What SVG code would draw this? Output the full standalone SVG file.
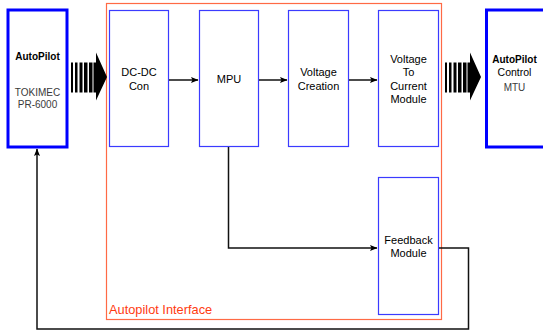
<svg xmlns="http://www.w3.org/2000/svg" width="543" height="331" viewBox="0 0 543 331">
<style>
.blk{fill:#fff;stroke:#3b3bff;stroke-width:1.2}
.big{fill:#fff;stroke:#0000ff;stroke-width:3}
.t{font-family:"Liberation Sans",Arial,sans-serif;font-size:11px;fill:#000;text-anchor:middle}
.b{font-weight:bold;font-size:10px}
.g{fill:#3a3a3a;font-size:10px}
.c{fill:none;stroke:#111;stroke-width:1.5}
</style>
<defs>
<marker id="ah" markerWidth="8" markerHeight="8" refX="7" refY="3.5" orient="auto" markerUnits="userSpaceOnUse">
<path d="M0,0.5 L7.5,3.5 L0,6.5 L1.5,3.5 z" fill="#000"/>
</marker>
<g id="fat">
<rect x="0" y="10" width="2" height="30" fill="#000"/>
<rect x="4" y="10" width="2.5" height="30" fill="#000"/>
<rect x="8.5" y="10" width="3" height="30" fill="#000"/>
<rect x="13" y="10" width="3.5" height="30" fill="#000"/>
<rect x="18" y="10" width="3.5" height="30" fill="#000"/>
<path d="M22.5,10 L25,10 L25,0 L36,24.5 L25,48 L25,40 L22.5,40 z" fill="#000"/>
</g>
</defs>
<g id="interface">
<rect x="106.5" y="3.5" width="335" height="316" fill="none" stroke="#ff6a45" stroke-width="1.2"/>
<text x="109" y="314" style="font-family:'Liberation Sans',Arial,sans-serif;font-size:12.8px;fill:#ff3a10">Autopilot Interface</text>
</g>
<g id="autopilot">
<rect class="big" x="8" y="10" width="59" height="137"/>
<text class="t b" x="37.5" y="60">AutoPilot</text>
<text class="t g" x="37.5" y="96">TOKIMEC</text>
<text class="t g" x="37.5" y="108">PR-6000</text>
</g>
<g id="dcdc">
<rect class="blk" x="109.5" y="10.5" width="59" height="136"/>
<text class="t" x="139" y="76">DC-DC</text>
<text class="t" x="139" y="90">Con</text>
</g>
<g id="mpu">
<rect class="blk" x="199.5" y="10.5" width="59" height="136"/>
<text class="t" x="229" y="83">MPU</text>
</g>
<g id="vcreation">
<rect class="blk" x="288.5" y="10.5" width="60" height="136"/>
<text class="t" x="318.5" y="76">Voltage</text>
<text class="t" x="318.5" y="90">Creation</text>
</g>
<g id="v2c">
<rect class="blk" x="378.5" y="10.5" width="60" height="136"/>
<text class="t" x="408.5" y="63">Voltage</text>
<text class="t" x="408.5" y="76">To</text>
<text class="t" x="408.5" y="90">Current</text>
<text class="t" x="408.5" y="103">Module</text>
</g>
<g id="feedback">
<rect class="blk" x="378.5" y="177.5" width="60" height="137"/>
<text class="t" x="408.5" y="244">Feedback</text>
<text class="t" x="408.5" y="257">Module</text>
</g>
<g id="control">
<rect class="big" x="486.5" y="10" width="60" height="137"/>
<text class="t b" x="514.5" y="63">AutoPilot</text>
<text class="t" x="514.5" y="76" style="font-size:10.5px">Control</text>
<text class="t g" x="514.5" y="91">MTU</text>
</g>
<g id="connectors">
<use href="#fat" x="71" y="52.5"/>
<use href="#fat" x="445" y="52.5"/>
<line class="c" x1="169" y1="80" x2="198" y2="80" marker-end="url(#ah)"/>
<line class="c" x1="259" y1="80" x2="287" y2="80" marker-end="url(#ah)"/>
<line class="c" x1="349" y1="80" x2="377" y2="80" marker-end="url(#ah)"/>
<polyline class="c" points="228.5,147 228.5,248 377,248" marker-end="url(#ah)"/>
<polyline class="c" points="439,248 468.5,248 468.5,329 37,329 37,149" marker-end="url(#ah)"/>
</g>
</svg>
